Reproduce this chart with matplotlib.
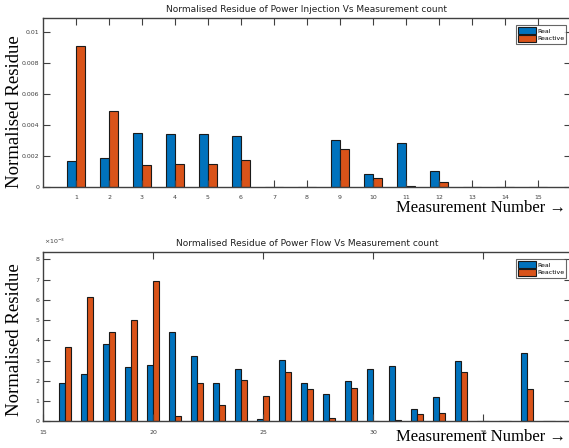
import matplotlib
matplotlib.use("Agg")
import matplotlib.pyplot as plt
import numpy as np

# ---- data ----
inj_meas = list(range(1, 16))
inj_real = [0.00166, 0.0019, 0.0035, 0.00344, 0.0034, 0.0033, 0.0, 0.0, 0.00303, 0.00086, 0.00286, 0.00105, 0.0, 0.0, 0.0]
inj_reac = [0.0091, 0.0049, 0.00142, 0.0015, 0.0015, 0.00174, 0.0, 0.0, 0.00243, 0.0006, 0.00005, 0.00032, 0.0, 0.0, 0.0]

flow_meas = list(range(16, 39))
flow_real = [1.91, 2.32, 3.82, 2.67, 2.80, 4.43, 3.24, 1.89, 2.60, 0.10, 3.03, 1.87, 1.35, 2.00, 2.57, 2.75, 0.61, 1.18, 2.99, 0.0, 0.0, 3.39, 0.0]
flow_reac = [3.65, 6.12, 4.43, 4.99, 6.94, 0.25, 1.89, 0.80, 2.02, 1.27, 2.43, 1.60, 0.15, 1.63, 0.02, 0.05, 0.38, 0.43, 2.43, 0.0, 0.0, 1.60, 0.0]
flow_real = [v * 1e-3 for v in flow_real]
flow_reac = [v * 1e-3 for v in flow_reac]

series_names = ["Real", "Reactive"]
colors = ["#0072BD", "#D95319"]

top_title = "Normalised Residue of Power Injection Vs Measurement count"
bot_title = "Normalised Residue of Power Flow Vs Measurement count"
ylab = "Normalised Residue"
xlab = "Measurement Number \u2192"

W, H = 569, 448
fig = plt.figure(figsize=(W / 100, H / 100), dpi=100)
fig.patch.set_facecolor("white")

narrow = ["Liberation Sans Narrow", "DejaVu Sans"]
serif = ["Liberation Serif", "DejaVu Serif"]

def px(l, t, r, b):
    return [l / W, 1 - b / H, (r - l) / W, (b - t) / H]

def style(ax):
    for s in ax.spines.values():
        s.set_color("#404040")
        s.set_linewidth(1.0)
    ax.tick_params(direction="in", top=True, right=True, length=5, width=0.8,
                   color="#404040", labelsize=4.5, labelcolor="#404040")
    ax.tick_params(axis="x", pad=6)
    ax.tick_params(axis="y", pad=2.5)
    for lab in ax.get_xticklabels() + ax.get_yticklabels():
        lab.set_family(narrow)

bw = 0.25
off = 0.14

def add_legend(ax, top_px):
    leg = ax.legend(loc="upper right", bbox_to_anchor=(566 / W, 1 - top_px / H), bbox_transform=fig.transFigure,
                    fontsize=4.5, frameon=True, fancybox=False, edgecolor="#404040",
                    handlelength=2.8, handleheight=1.4, borderpad=0.3, labelspacing=0.1, handletextpad=0.2,
                    borderaxespad=0)
    leg.get_frame().set_linewidth(0.8)
    for t in leg.get_texts():
        t.set_family(narrow)

# ---- top ----
ax1 = fig.add_axes(px(43, 18, 571, 187))
x = np.array(inj_meas)
ax1.bar(x - off, inj_real, bw, color=colors[0], edgecolor="#1a1a1a", linewidth=0.8, label=series_names[0])
ax1.bar(x + off, inj_reac, bw, color=colors[1], edgecolor="#1a1a1a", linewidth=0.8, label=series_names[1])
ax1.set_xlim(0, 16)
ax1.set_ylim(0, 0.0109)
ax1.set_xticks(inj_meas)
ax1.set_yticks([0, 0.002, 0.004, 0.006, 0.008, 0.01])
ax1.set_yticklabels(["0", "0.002", "0.004", "0.006", "0.008", "0.01"])
style(ax1)
ax1.set_title(top_title, fontsize=6.5, family=narrow, pad=4, color="#202020")
add_legend(ax1, 25)

fig.text(15 / W, 1 - 112 / H, ylab, rotation=90, ha="center", va="center", fontsize=13.5, family=serif)
fig.text(566 / W, 1 - 208 / H, xlab, ha="right", va="center", fontsize=12, family=serif)

# ---- bottom ----
ax2 = fig.add_axes(px(43, 252, 571, 421.3))
x2 = np.array(flow_meas)
ax2.bar(x2 - off, flow_real, bw, color=colors[0], edgecolor="#1a1a1a", linewidth=0.8, label=series_names[0])
ax2.bar(x2 + off, flow_reac, bw, color=colors[1], edgecolor="#1a1a1a", linewidth=0.8, label=series_names[1])
ax2.set_xlim(15, 39)
ax2.set_ylim(0, 0.00836)
ax2.set_xticks([15, 20, 25, 30, 35])
ax2.set_yticks([i * 1e-3 for i in range(9)])
ax2.set_yticklabels([str(i) for i in range(9)])
style(ax2)
ax2.set_title(bot_title, fontsize=6.5, family=narrow, pad=4, color="#202020")
add_legend(ax2, 259)
fig.text(44 / W, 1 - 246 / H, r"$\times10^{-3}$", fontsize=4.5, color="#404040", ha="left", va="bottom")

fig.text(15 / W, 1 - 340 / H, ylab, rotation=90, ha="center", va="center", fontsize=13.5, family=serif)
fig.text(566 / W, 1 - 437 / H, xlab, ha="right", va="center", fontsize=12, family=serif)

fig.savefig("out.png", dpi=100, facecolor="white")
